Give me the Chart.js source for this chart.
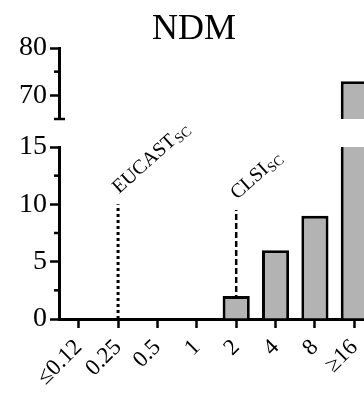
<!DOCTYPE html>
<html>
<head>
<meta charset="utf-8">
<script src="https://cdn.jsdelivr.net/npm/chart.js@4.4.1/dist/chart.umd.min.js"></script>
<style>
  html, body { margin: 0; padding: 0; background: #fff; overflow: hidden; }
  #wrap { position: relative; width: 364px; height: 400px; overflow: hidden; }
  .layer { position: absolute; left: 0; top: 0; width: 400px; height: 400px; }
  #title { position: absolute; left: 144px; width: 100px; top: 6px; text-align: center;
           font: 36px 'Liberation Serif', serif; color: #000; }
</style>
</head>
<body>
<div id="wrap">
  <div class="layer"><canvas id="lowerChart" width="400" height="400"></canvas></div>
  <div class="layer"><canvas id="upperChart" width="400" height="400"></canvas></div>
  <div id="title">NDM</div>
</div>
<script>
const MIC_LABELS = ['≤0.12', '0.25', '0.5', '1', '2', '4', '8', '≥16'];
const ISOLATES = [0, 0, 0, 0, 2, 6, 9, 73];

const LOWER_TICKS = [0, 5, 10, 15];
const LOWER_MINOR = [2.5, 7.5, 12.5];
const UPPER_TICKS = [70, 80];
const UPPER_MINOR = [75, 65];

const EUCAST_AT = '0.25';
const EUCAST_TOP = 10;
const CLSI_AT = '2';
const CLSI_TOP = 9.5;

Chart.defaults.font.family = "'Liberation Serif', 'Times New Roman', serif";
Chart.defaults.color = '#000';

// short minor ticks on the y axis
const minorTicks = {
    id: 'minorTicks',
    afterDraw(chart, args, opts) {
        const y = chart.scales.y;
        const ctx = chart.ctx;
        ctx.save();
        ctx.strokeStyle = '#000';
        ctx.lineWidth = 2.5;
        opts.values.forEach(v => {
            const py = y.getPixelForValue(v);
            ctx.beginPath();
            ctx.moveTo(y.right - 5, py);
            ctx.lineTo(y.right + (v === 65 ? 6 : 0), py);
            ctx.stroke();
        });
        ctx.restore();
    }
};

// rotated breakpoint labels with subscript
const breakpointLabels = {
    id: 'breakpointLabels',
    afterDraw(chart) {
        const x = chart.scales.x, y = chart.scales.y;
        const ctx = chart.ctx;
        const items = [
            { text: 'EUCAST', sub: 'SC', at: EUCAST_AT, top: EUCAST_TOP },
            { text: 'CLSI', sub: 'SC', at: CLSI_AT, top: CLSI_TOP }
        ];
        ctx.save();
        ctx.fillStyle = '#000';
        items.forEach(it => {
            const px = x.getPixelForValue(x.getLabels().indexOf(it.at));
            const py = y.getPixelForValue(it.top);
            ctx.save();
            ctx.translate(px + 1, py - 10);
            ctx.rotate(-42 * Math.PI / 180);
            ctx.font = "20px 'Liberation Serif'";
            ctx.textBaseline = 'alphabetic';
            ctx.fillText(it.text, 0, 0);
            const w = ctx.measureText(it.text).width;
            ctx.font = "14px 'Liberation Serif'";
            ctx.fillText(it.sub, w + 1, 3);
            ctx.restore();
        });
        ctx.restore();
    }
};

function yScale(min, max, majors) {
    return {
        min: min,
        max: max,
        afterBuildTicks: s => { s.ticks = majors.map(v => ({ value: v })); },
        afterFit: s => { s.width = 59; },
        border: { display: true, color: '#000', width: 3 },
        grid: { drawOnChartArea: false, tickLength: 9, tickWidth: 2.5, tickColor: '#000' },
        ticks: { padding: 3, font: { size: 28 }, color: '#000' }
    };
}

function barDataset() {
    return {
        type: 'bar',
        data: ISOLATES,
        backgroundColor: '#b3b3b3',
        borderColor: '#000',
        borderWidth: 3,
        barPercentage: 0.69,
        categoryPercentage: 1
    };
}

function lineDataset(at, top, dash, width) {
    return {
        type: 'line',
        data: [{ x: at, y: 0 }, { x: at, y: top }],
        borderColor: '#000',
        borderWidth: width,
        borderDash: dash,
        pointRadius: 0,
        fill: false
    };
}

// lower segment 0-15
new Chart(document.getElementById('lowerChart'), {
    type: 'bar',
    data: {
        labels: MIC_LABELS,
        datasets: [
            barDataset(),
            lineDataset(EUCAST_AT, EUCAST_TOP, [3, 3], 3),
            lineDataset(CLSI_AT, CLSI_TOP, [6, 3], 2.5)
        ]
    },
    options: {
        responsive: false,
        animation: false,
        devicePixelRatio: 1,
        layout: { padding: { top: 147, right: 26, left: 0, bottom: 0 } },
        plugins: {
            legend: { display: false },
            tooltip: { enabled: false },
            minorTicks: { values: LOWER_MINOR }
        },
        scales: {
            x: {
                afterFit: s => { s.height = 81; },
                border: { display: true, color: '#000', width: 3 },
                grid: { drawOnChartArea: false, offset: false, tickLength: 9, tickWidth: 2.5, tickColor: '#000' },
                ticks: { autoSkip: false, minRotation: 45, maxRotation: 45, padding: 6, font: { size: 23 }, color: '#000' }
            },
            y: yScale(0, 15, LOWER_TICKS)
        }
    },
    plugins: [minorTicks, breakpointLabels]
});

// upper segment 65-80
new Chart(document.getElementById('upperChart'), {
    type: 'bar',
    data: {
        labels: MIC_LABELS,
        datasets: [barDataset()]
    },
    options: {
        responsive: false,
        animation: false,
        devicePixelRatio: 1,
        layout: { padding: { top: 48, right: 26, left: 0, bottom: 281 } },
        plugins: {
            legend: { display: false },
            tooltip: { enabled: false },
            minorTicks: { values: UPPER_MINOR }
        },
        scales: {
            x: { display: false },
            y: yScale(65, 80, UPPER_TICKS)
        }
    },
    plugins: [minorTicks]
});
</script>
</body>
</html>
